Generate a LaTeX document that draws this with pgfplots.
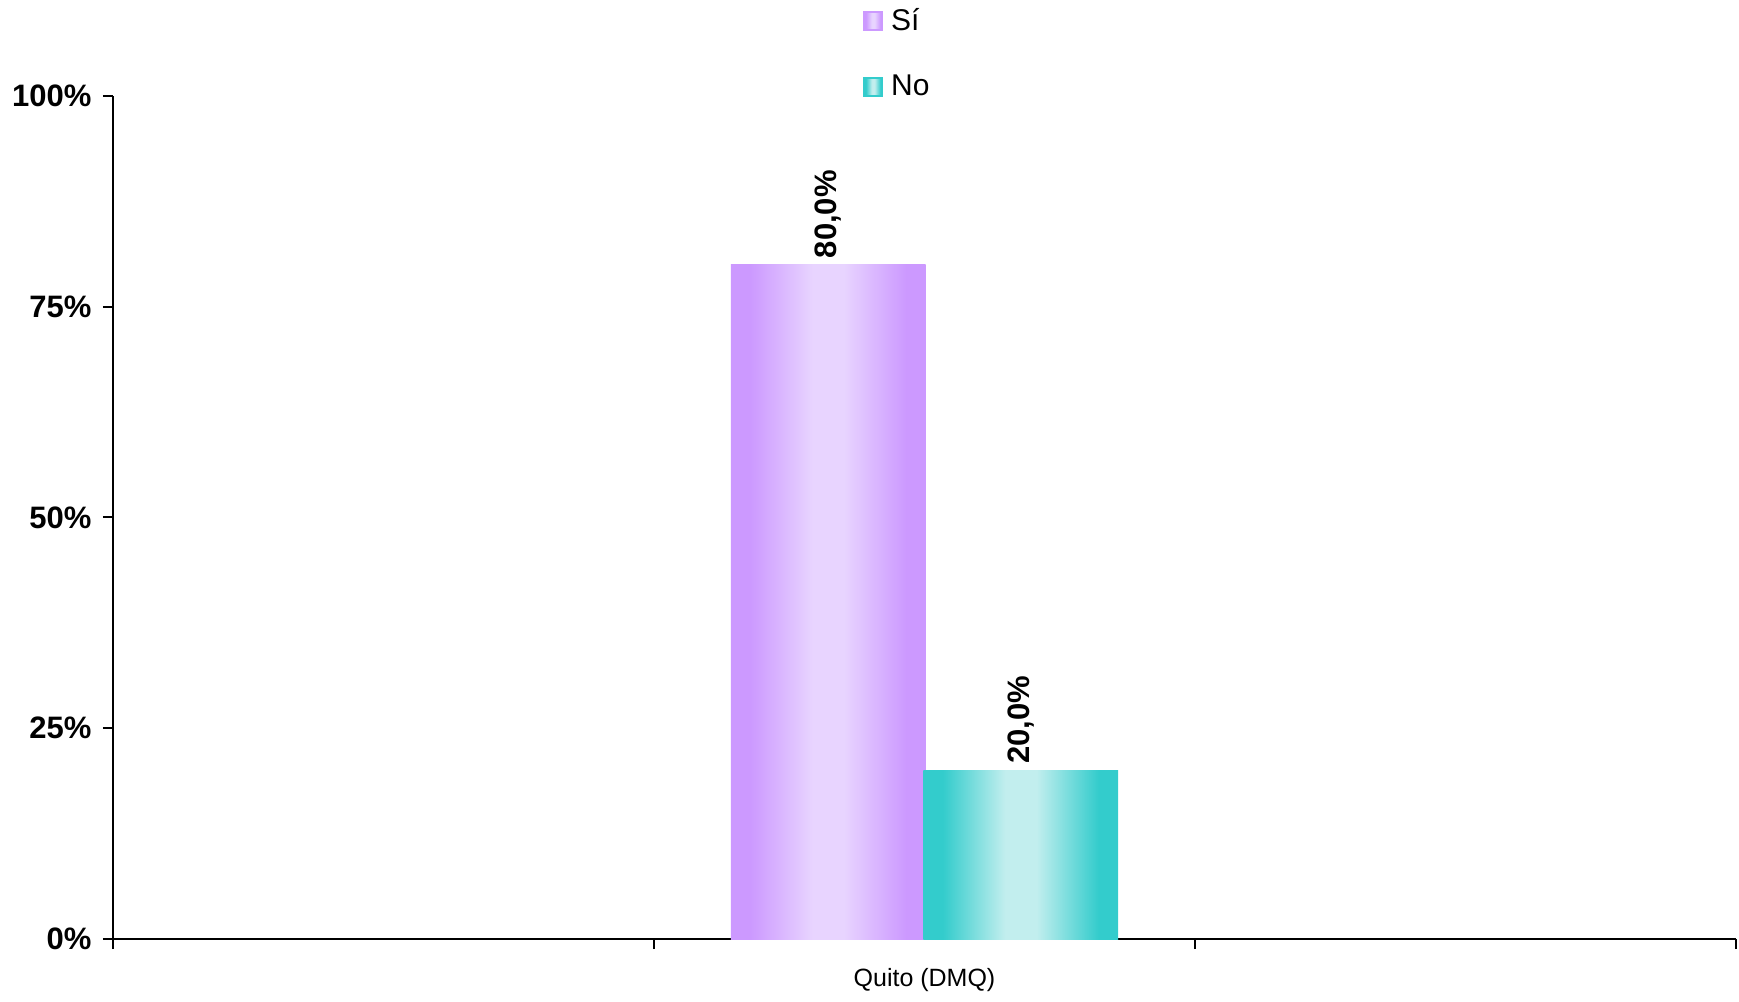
\documentclass[border=0pt]{standalone}
\usepackage{pgfplots}
\pgfplotsset{compat=1.18}
\usepackage{fontspec}
\setmainfont{Liberation Sans}
\definecolor{pE}{HTML}{CC99FF}
\definecolor{pC}{HTML}{E8D4FF}
\definecolor{tE}{HTML}{33CCCC}
\definecolor{tC}{HTML}{C2EEEE}
\pgfdeclarehorizontalshading{pshade}{100bp}{color(0bp)=(pE); color(25bp)=(pE); color(30bp)=(pE); color(46bp)=(pC); color(54bp)=(pC); color(70bp)=(pE); color(75bp)=(pE); color(100bp)=(pE)}
\pgfdeclarehorizontalshading{tshade}{100bp}{color(0bp)=(tE); color(25bp)=(tE); color(30bp)=(tE); color(46bp)=(tC); color(54bp)=(tC); color(70bp)=(tE); color(75bp)=(tE); color(100bp)=(tE)}
\begin{document}
\begin{tikzpicture}
\begin{axis}[
  scale only axis, width=811.5pt, height=421.5pt,
  xmin=0, xmax=3, ymin=0, ymax=100,
  axis x line*=bottom, axis y line*=left,
  axis line style={line width=1pt,-},
  xtick={0,1,2,3}, xticklabels={,,,},
  extra x ticks={1.5}, extra x tick labels={Quito (DMQ)},
  extra x tick style={major tick length=0pt, tick label style={font=\fontsize{12.5}{15}\selectfont, yshift=-11pt}},
  ytick={0,25,50,75,100}, yticklabels={0\%,25\%,50\%,75\%,100\%},
  yticklabel style={font=\bfseries\fontsize{15.5}{18}\selectfont, xshift=-2.2pt},
  tick align=outside, major tick length=5pt,
  tick style={line width=1pt, black},
  /pgf/number format/assume math mode=true,
  point meta=explicit symbolic,
  nodes near coords,
  nodes near coords style={rotate=90, anchor=west, inner sep=3pt, font=\bfseries\fontsize{15.5}{18}\selectfont},
  legend style={at={(axis description cs:0.462,1.107)}, anchor=north west, draw=none, fill=none,
    font=\fontsize{15}{18}\selectfont, row sep=19pt, inner sep=0pt, nodes={inner sep=1pt, inner xsep=4pt}},
  legend cell align=left,
]
\coordinate (bbSW) at (rel axis cs:0,0);
\coordinate (bbNE) at (rel axis cs:1,1);
\addplot[ybar, bar width=0.36, bar shift=0, draw=none, shading=pshade,
  legend image code/.code={\draw[draw=pE, line width=1pt, shading=pshade] (0pt,-4.5pt) rectangle (9pt,4.5pt);}]
  coordinates {(1.322,80) [80,0\%]};
\addlegendentry{Sí}
\addplot[ybar, bar width=0.36, bar shift=0, draw=none, shading=tshade,
  legend image code/.code={\draw[draw=tE, line width=1pt, shading=tshade] (0pt,-4.5pt) rectangle (9pt,4.5pt);}]
  coordinates {(1.678,20) [20,0\%]};
\addlegendentry{No}
\end{axis}
\pgfresetboundingbox
\path ([shift={(-56.5pt,-31pt)}]bbSW) rectangle ([shift={(1.5pt,48pt)}]bbNE);
\end{tikzpicture}
\end{document}
